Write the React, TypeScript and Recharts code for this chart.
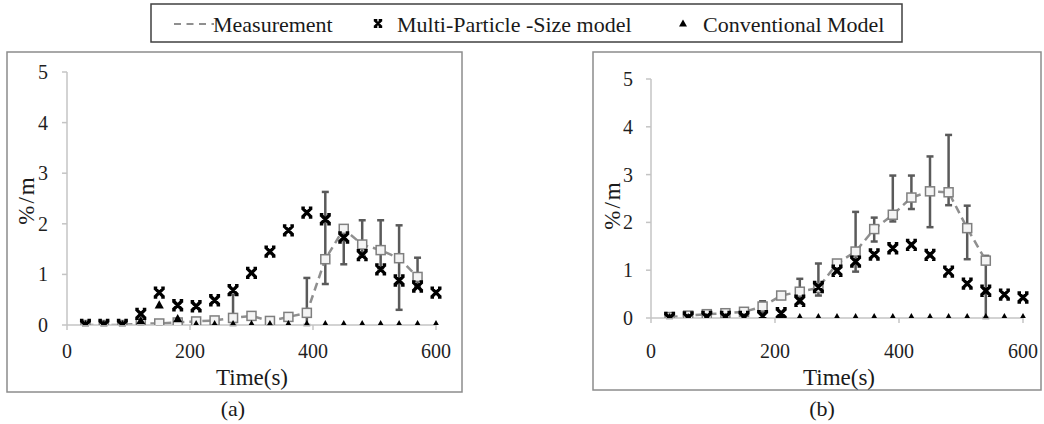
import { ComposedChart, Line, XAxis, YAxis, ErrorBar } from 'recharts';

const SERIF = '"Liberation Serif", "Times New Roman", serif';

const time = [30, 60, 90, 120, 150, 180, 210, 240, 270, 300, 330, 360, 390, 420, 450, 480, 510, 540, 570, 600];

// (a)
const measA = [0, 0, 0, 0.03, 0.03, 0.05, 0.07, 0.09, 0.14, 0.18, 0.08, 0.16, 0.24, 1.3, 1.9, 1.59, 1.48, 1.32, 0.95, null];
const errA: [number, number][] = [
  [0, 0], [0, 0], [0, 0], [0.02, 0.02], [0.02, 0.02], [0.02, 0.02], [0.03, 0.03], [0.04, 0.04],
  [0.14, 0.46], [0.07, 0.07], [0.07, 0.07], [0.06, 0.06], [0.24, 0.69], [0.49, 1.33], [0.7, 0],
  [0.23, 0.48], [0.36, 0.59], [1.02, 0.65], [0.2, 0.38], [0, 0],
];
const mpsA = [0, 0, 0, 0.22, 0.64, 0.39, 0.37, 0.49, 0.69, 1.03, 1.45, 1.87, 2.22, 2.09, 1.73, 1.38, 1.1, 0.88, 0.76, 0.64];
const convA = [0, 0, 0, 0.08, 0.39, 0.12, 0, 0, 0, 0, 0, 0, 0, 0, 0, 0, 0, 0, 0, 0];

// (b)
const measB = [0.02, 0.05, 0.08, 0.1, 0.13, 0.24, 0.47, 0.55, 0.63, 1.14, 1.39, 1.86, 2.16, 2.52, 2.65, 2.63, 1.88, 1.2, null, null];
const errB: [number, number][] = [
  [0.02, 0.03], [0.02, 0.03], [0.03, 0.03], [0.03, 0.03], [0.03, 0.03], [0.11, 0.11], [0.05, 0.05],
  [0.24, 0.27], [0.16, 0.51], [0.05, 0.05], [0.42, 0.83], [0.26, 0.24], [0.14, 0.82], [0.24, 0.46],
  [0.75, 0.73], [0.27, 1.2], [0.65, 0.47], [1.2, 0.1], [0, 0], [0, 0],
];
const mpsB = [0, 0.01, 0.02, 0.02, 0.02, 0.04, 0.1, 0.36, 0.65, 0.99, 1.18, 1.33, 1.46, 1.53, 1.32, 0.97, 0.72, 0.57, 0.49, 0.43];
const convB = [0, 0, 0, 0, 0, 0, 0, 0, 0, 0, 0, 0, 0, 0, 0, 0, 0, 0, 0, 0];

const xTicks = [0, 200, 400, 600];
const yTicks = [0, 1, 2, 3, 4, 5];

const rows = (meas: (number | null)[], err: [number, number][], mps: number[], conv: number[]) =>
  time.map((t, i) => ({ t, meas: meas[i], err: meas[i] == null ? null : err[i], mps: mps[i], conv: conv[i] }));

const dataA = rows(measA, errA, mpsA, convA);
const dataB = rows(measB, errB, mpsB, convB);

const crossPath = (cx: number, cy: number, r: number) =>
  `M${cx - r} ${cy - r} L${cx + r} ${cy + r} M${cx - r} ${cy + r} L${cx + r} ${cy - r}` +
  ` M${cx - r - 1} ${cy - r} L${cx - r + 2.5} ${cy - r} M${cx + r - 2.5} ${cy - r} L${cx + r + 1} ${cy - r}` +
  ` M${cx - r - 1} ${cy + r} L${cx - r + 2.5} ${cy + r} M${cx + r - 2.5} ${cy + r} L${cx + r + 1} ${cy + r}`;

const SquareDot = ({ cx, cy, value }: any) => {
  if (cx == null || cy == null || value == null) return <g />;
  return <rect x={cx - 4.5} y={cy - 4.5} width={9} height={9} fill="#f4f4f4" stroke="#7f7f7f" strokeWidth={1.5} />;
};

const CrossDot = ({ cx, cy }: any) => {
  if (cx == null || cy == null) return <g />;
  return <path d={crossPath(cx, cy, 4.5)} stroke="#000" strokeWidth={3.4} fill="none" />;
};

const TriDot = ({ cx, cy }: any) => {
  if (cx == null || cy == null) return <g />;
  return <path d={`M${cx} ${cy - 5} L${cx + 4.6} ${cy + 3.2} L${cx - 4.6} ${cy + 3.2} Z`} fill="#000" />;
};

const XTick = ({ x, y, payload }: any) => (
  <text x={x} y={y} dy={14} textAnchor="middle" fontSize={20} fontFamily={SERIF} fill="#1f1f1f">
    {payload.value}
  </text>
);

const YTick = ({ x, y, payload }: any) => (
  <text x={x} y={y} dy={7} textAnchor="end" fontSize={20} fontFamily={SERIF} fill="#1f1f1f">
    {payload.value}
  </text>
);

interface Geo {
  left: number;
  top: number;
  w: number;
  h: number;
  plotL: number;
  plotT: number;
  plotR: number;
  plotB: number;
  xTickMargin: number;
  yTickMargin: number;
}

function Panel({ data, g }: { data: any[]; g: Geo }) {
  return (
    <div style={{ position: 'absolute', left: g.left, top: g.top }}>
      <ComposedChart
        width={g.w}
        height={g.h}
        data={data}
        margin={{ top: g.plotT, right: g.w - g.plotR, left: g.plotL - 50, bottom: g.h - g.plotB - 30 }}
      >
        <XAxis
          type="number"
          dataKey="t"
          domain={[0, 600]}
          ticks={xTicks}
          interval={0}
          height={30}
          stroke="#c4c4c4"
          strokeWidth={1.5}
          tick={XTick}
          tickSize={5}
          tickMargin={g.xTickMargin}
        />
        <YAxis
          type="number"
          domain={[0, 5]}
          ticks={yTicks}
          allowDataOverflow
          interval={0}
          width={50}
          stroke="#c4c4c4"
          strokeWidth={1.5}
          tick={YTick}
          tickSize={5}
          tickMargin={g.yTickMargin}
        />
        <Line
          dataKey="meas"
          type="linear"
          stroke="#8f8f8f"
          strokeWidth={2.5}
          strokeDasharray="8 5"
          isAnimationActive={false}
          activeDot={false}
          dot={(p: any) => {
            const { key, ...rest } = p;
            return <SquareDot key={key} {...rest} />;
          }}
        >
          <ErrorBar dataKey="err" direction="y" width={3.5} stroke="#5a5a5a" strokeWidth={2.5} isAnimationActive={false} />
        </Line>
        <Line
          dataKey="mps"
          stroke="none"
          isAnimationActive={false}
          activeDot={false}
          dot={(p: any) => {
            const { key, ...rest } = p;
            return <CrossDot key={key} {...rest} />;
          }}
        />
        <Line
          dataKey="conv"
          stroke="none"
          isAnimationActive={false}
          activeDot={false}
          dot={(p: any) => {
            const { key, ...rest } = p;
            return <TriDot key={key} {...rest} />;
          }}
        />
      </ComposedChart>
    </div>
  );
}

const geoA: Geo = { left: 7, top: 52, w: 455, h: 340, plotL: 60, plotT: 20, plotR: 429, plotB: 273, xTickMargin: 14, yTickMargin: 14 };
const geoB: Geo = { left: 593, top: 52, w: 448, h: 338, plotL: 58, plotT: 27, plotR: 430, plotB: 266, xTickMargin: 21, yTickMargin: 13 };

const txt = { fontFamily: SERIF, fill: '#1a1a1a' };

export default function App() {
  return (
    <div style={{ position: 'absolute', left: 0, top: 0, width: 1044, height: 424, background: '#fff', overflow: 'hidden' }}>
      <svg width={1044} height={424} style={{ position: 'absolute', left: 0, top: 0 }}>
        <rect x={151} y={4} width={751} height={38} fill="#fff" stroke="#404040" strokeWidth={1.5} />
        <line x1={174} y1={24} x2={214} y2={24} stroke="#8f8f8f" strokeWidth={2} strokeDasharray="7 5.5" />
        <text x={213} y={32} fontSize={22} {...txt}>Measurement</text>
        <path d={crossPath(378, 23.5, 3.2)} stroke="#000" strokeWidth={2.6} fill="none" />
        <text x={397} y={32} fontSize={22} {...txt}>Multi-Particle -Size model</text>
        <path d="M683 19.5 L687 26.5 L679 26.5 Z" fill="#000" />
        <text x={703} y={32} fontSize={22} {...txt}>Conventional Model</text>
        <rect x={7} y={52} width={455} height={340} fill="none" stroke="#8c8c8c" strokeWidth={1.5} />
        <rect x={593} y={52} width={448} height={338} fill="none" stroke="#8c8c8c" strokeWidth={1.5} />
        <text x={252} y={385} textAnchor="middle" fontSize={23} {...txt}>Time(s)</text>
        <text x={839} y={385} textAnchor="middle" fontSize={23} {...txt}>Time(s)</text>
        <text transform="translate(26,200) rotate(-90)" x={0} y={8} textAnchor="middle" fontSize={23} letterSpacing={2} {...txt}>%/m</text>
        <text transform="translate(612,205) rotate(-90)" x={0} y={8} textAnchor="middle" fontSize={23} letterSpacing={2} {...txt}>%/m</text>
        <text x={233} y={416} textAnchor="middle" fontSize={22} {...txt}>(a)</text>
        <text x={822} y={416} textAnchor="middle" fontSize={22} {...txt}>(b)</text>
      </svg>
      <Panel data={dataA} g={geoA} />
      <Panel data={dataB} g={geoB} />
    </div>
  );
}
